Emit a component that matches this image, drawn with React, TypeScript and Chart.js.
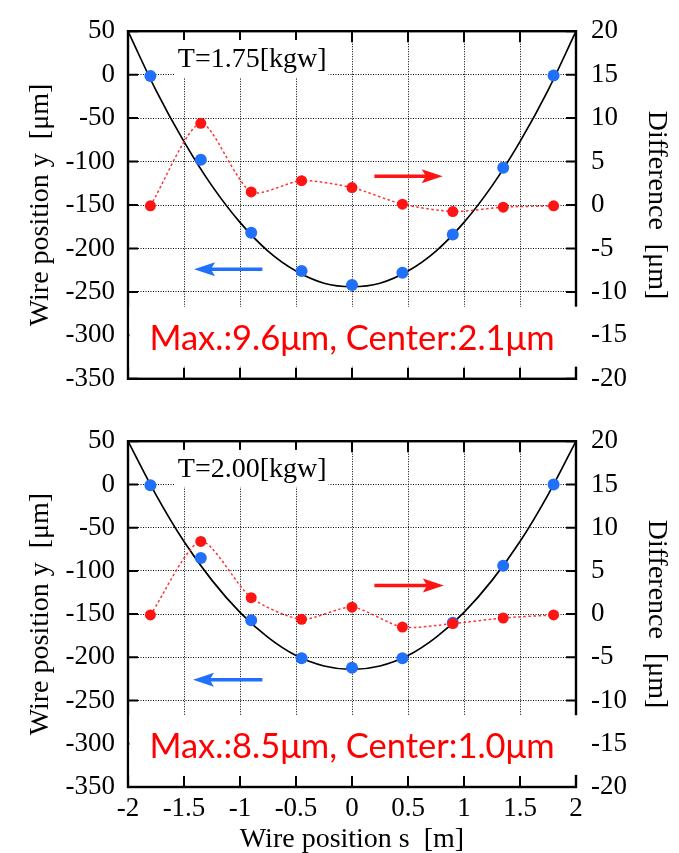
import React, { useEffect, useRef } from 'react';
import { Chart, registerables } from 'chart.js';

Chart.register(...registerables);

// Measurement positions along the wire [m]
const sPositions = [-1.8, -1.35, -0.9, -0.45, 0, 0.45, 0.9, 1.35, 1.8];
const fitPositions = [-2, -1.75, -1.5, -1.25, -1, -0.75, -0.5, -0.25, 0, 0.25, 0.5, 0.75, 1, 1.25, 1.5, 1.75, 2];

// T = 1.75 kgw
const measuredTop = [-1.5, -98, -182, -226, -242, -228, -184, -107, -1];
const differenceTop = [-0.1, 9.4, 1.5, 2.8, 2.0, 0.1, -0.75, -0.25, -0.1];
const fitTop = [50, -18, -77, -128, -170, -203, -226, -240, -244, -240, -226, -203, -170, -128, -77, -18, 50];

// T = 2.00 kgw
const measuredBottom = [-1, -85, -157, -201, -212, -201, -160, -94, 0];
const differenceBottom = [-0.1, 8.4, 1.9, -0.6, 0.8, -1.5, -1.1, -0.45, -0.1];
const fitBottom = [50, -12, -66, -111, -148, -177, -198, -210, -214, -210, -198, -177, -148, -111, -66, -12, 50];

// Tick labels
const xTickLabels = ['-2', '-1.5', '-1', '-0.5', '0', '0.5', '1', '1.5', '2'];
const leftTickLabels = ['-350', '-300', '-250', '-200', '-150', '-100', '-50', '0', '50'];
const rightTickLabels = ['-20', '-15', '-10', '-5', '0', '5', '10', '15', '20'];

const panelLabels = ['T=1.75[kgw]', 'T=2.00[kgw]'];
const summaryTexts = ['Max.:9.6\u03bcm, Center:2.1\u03bcm', 'Max.:8.5\u03bcm, Center:1.0\u03bcm'];

// Arrow annotations (data units): [from s, to s, value]
const blueArrowTop = [-0.8, -1.41, -224];
const redArrowTop = [0.2, 0.81, 3.3];
const blueArrowBottom = [-0.8, -1.42, -226];
const redArrowBottom = [0.2, 0.82, 3.3];

const SERIF = '"Liberation Serif", "Times New Roman", serif';
const BLUE = 'rgb(32,112,250)';
const RED = 'rgb(255,20,20)';

type PanelProps = {
  measured: number[];
  difference: number[];
  fit: number[];
  label: string;
  summary: string;
  blueArrow: number[];
  redArrow: number[];
  showX: boolean;
  height: number;
  padTop: number;
  xHeight: number;
};

function drawArrow(ctx: CanvasRenderingContext2D, x1: number, x2: number, y: number, color: string) {
  const dir = Math.sign(x2 - x1);
  const head = 21;
  const hw = 7;
  ctx.strokeStyle = color;
  ctx.fillStyle = color;
  ctx.lineWidth = 3.5;
  ctx.setLineDash([]);
  ctx.beginPath();
  ctx.moveTo(x1, y);
  ctx.lineTo(x2 - dir * head * 0.7, y);
  ctx.stroke();
  ctx.beginPath();
  ctx.moveTo(x2, y);
  ctx.lineTo(x2 - dir * head, y - hw);
  ctx.lineTo(x2 - dir * head * 0.8, y);
  ctx.lineTo(x2 - dir * head, y + hw);
  ctx.closePath();
  ctx.fill();
}

function Panel(p: PanelProps) {
  const ref = useRef<HTMLCanvasElement>(null);
  useEffect(() => {
    const canvas = ref.current;
    if (!canvas) return;
    const decor = {
      id: 'decor',
      afterDraw(chart: any) {
        const { ctx, chartArea: a, scales } = chart;
        const x = scales.x;
        const y = scales.y;
        const y2 = scales.y2;
        ctx.save();
        ctx.setLineDash([]);
        // inward tick marks
        ctx.strokeStyle = '#000';
        ctx.lineWidth = 2;
        ctx.beginPath();
        x.ticks.forEach((_t: any, i: number) => {
          const px = x.getPixelForTick(i);
          ctx.moveTo(px, a.top);
          ctx.lineTo(px, a.top + 11);
          ctx.moveTo(px, a.bottom);
          ctx.lineTo(px, a.bottom - 11);
        });
        y.ticks.forEach((_t: any, i: number) => {
          const py = y.getPixelForTick(i);
          ctx.moveTo(a.left, py);
          ctx.lineTo(a.left + 10, py);
        });
        y2.ticks.forEach((_t: any, i: number) => {
          const py = y2.getPixelForTick(i);
          ctx.moveTo(a.right, py);
          ctx.lineTo(a.right - 10, py);
        });
        ctx.stroke();
        // frame
        ctx.lineWidth = 2.4;
        ctx.strokeRect(a.left, a.top, a.right - a.left, a.bottom - a.top);

        // summary box + text
        const b1 = y.getPixelForValue(-267);
        const b2 = y.getPixelForValue(-336);
        ctx.fillStyle = '#fff';
        ctx.fillRect(a.left + 1.5, b1, a.right - a.left + 4, b2 - b1);
        ctx.fillStyle = '#ff0000';
        ctx.font = '34.5px Lato, "Open Sans", sans-serif';
        ctx.textAlign = 'center';
        ctx.textBaseline = 'middle';
        ctx.fillText(p.summary, (a.left + a.right) / 2, y.getPixelForValue(-304));

        // panel label with white backing
        ctx.font = '28px ' + SERIF;
        ctx.textAlign = 'left';
        const tx = x.getPixelForValue(-1.555);
        const ty = y.getPixelForValue(18);
        const w = ctx.measureText(p.label).width;
        ctx.fillStyle = '#fff';
        ctx.fillRect(tx - 3, ty - 19, w + 5, 37);
        ctx.fillStyle = '#000';
        ctx.fillText(p.label, tx, ty + 1);

        // arrows
        drawArrow(ctx, x.getPixelForValue(p.blueArrow[0]), x.getPixelForValue(p.blueArrow[1]), y.getPixelForValue(p.blueArrow[2]), BLUE);
        drawArrow(ctx, x.getPixelForValue(p.redArrow[0]), x.getPixelForValue(p.redArrow[1]), y2.getPixelForValue(p.redArrow[2]), RED);
        ctx.restore();
      },
    };

    const tickFont = { family: SERIF, size: 27 };
    const titleFont = { family: SERIF, size: 28 };
    const gridCommon = { color: '#000', lineWidth: 1, drawTicks: false };

    const chart = new Chart(canvas, {
      type: 'line',
      data: {
        datasets: [
          {
            label: 'Difference',
            data: sPositions.map((s, i) => ({ x: s, y: p.difference[i] })),
            yAxisID: 'y2',
            borderColor: 'rgba(255,40,40,0.95)',
            borderWidth: 1.5,
            borderDash: [2.5, 2.5],
            tension: 0.25,
            pointRadius: 5.5,
            pointBackgroundColor: RED,
            pointBorderWidth: 0,
          },
          {
            label: 'Measured',
            data: sPositions.map((s, i) => ({ x: s, y: p.measured[i] })),
            yAxisID: 'y',
            showLine: false,
            pointRadius: 6,
            pointBackgroundColor: BLUE,
            pointBorderWidth: 0,
          },
          {
            label: 'Fit',
            data: fitPositions.map((s, i) => ({ x: s, y: p.fit[i] })),
            yAxisID: 'y',
            borderColor: '#000',
            borderWidth: 1.7,
            pointRadius: 0,
            tension: 0.4,
          },
        ],
      },
      options: {
        responsive: false,
        animation: false,
        layout: { padding: { top: p.padTop, left: 0, right: 0, bottom: 0 }, autoPadding: false },
        plugins: { legend: { display: false }, tooltip: { enabled: false } },
        scales: {
          x: {
            type: 'linear',
            min: -2,
            max: 2,
            ticks: {
              stepSize: 0.5,
              display: p.showX,
              autoSkip: false,
              maxRotation: 0,
              font: tickFont,
              color: '#000',
              padding: 6,
              callback: (_v: any, i: number) => xTickLabels[i],
            },
            grid: gridCommon,
            border: { display: false, dash: [1, 1.5] },
            title: { display: p.showX, text: 'Wire position s  [m]', font: titleFont, color: '#000', padding: { top: 0, bottom: -3 } },
            afterFit: (s: any) => { s.height = p.xHeight; },
          },
          y: {
            position: 'left',
            min: -350,
            max: 50,
            ticks: {
              stepSize: 50,
              font: tickFont,
              color: '#000',
              padding: 13,
              callback: (_v: any, i: number) => leftTickLabels[i],
            },
            grid: gridCommon,
            border: { display: false, dash: [1, 1.5] },
            title: { display: true, text: 'Wire position y  [\u03bcm]', font: titleFont, color: '#000', padding: { top: 24, bottom: 0 } },
            afterFit: (s: any) => { s.width = 128; },
          },
          y2: {
            position: 'right',
            min: -20,
            max: 20,
            ticks: {
              stepSize: 5,
              font: tickFont,
              color: '#000',
              padding: 15,
              callback: (_v: any, i: number) => rightTickLabels[i],
            },
            grid: { drawOnChartArea: false, drawTicks: false },
            border: { display: false },
            title: { display: true, text: 'Difference  [\u03bcm]', font: titleFont, color: '#000', padding: { top: 6, bottom: 0 } },
            afterFit: (s: any) => { s.width = 103; },
          },
        },
      } as any,
      plugins: [decor],
    });
    return () => chart.destroy();
  }, [p]);
  return <canvas ref={ref} width={679} height={p.height} style={{ display: 'block' }} />;
}

const topProps: PanelProps = {
  measured: measuredTop,
  difference: differenceTop,
  fit: fitTop,
  label: panelLabels[0],
  summary: summaryTexts[0],
  blueArrow: blueArrowTop,
  redArrow: redArrowTop,
  showX: false,
  height: 410,
  padTop: 28,
  xHeight: 20,
};

const bottomProps: PanelProps = {
  measured: measuredBottom,
  difference: differenceBottom,
  fit: fitBottom,
  label: panelLabels[1],
  summary: summaryTexts[1],
  blueArrow: blueArrowBottom,
  redArrow: redArrowBottom,
  showX: true,
  height: 443,
  padTop: 13,
  xHeight: 66,
};

export default function App() {
  return (
    <div style={{ position: 'absolute', left: 0, top: 0, width: 679, height: 853, background: '#fff' }}>
      <Panel {...topProps} />
      <Panel {...bottomProps} />
    </div>
  );
}
